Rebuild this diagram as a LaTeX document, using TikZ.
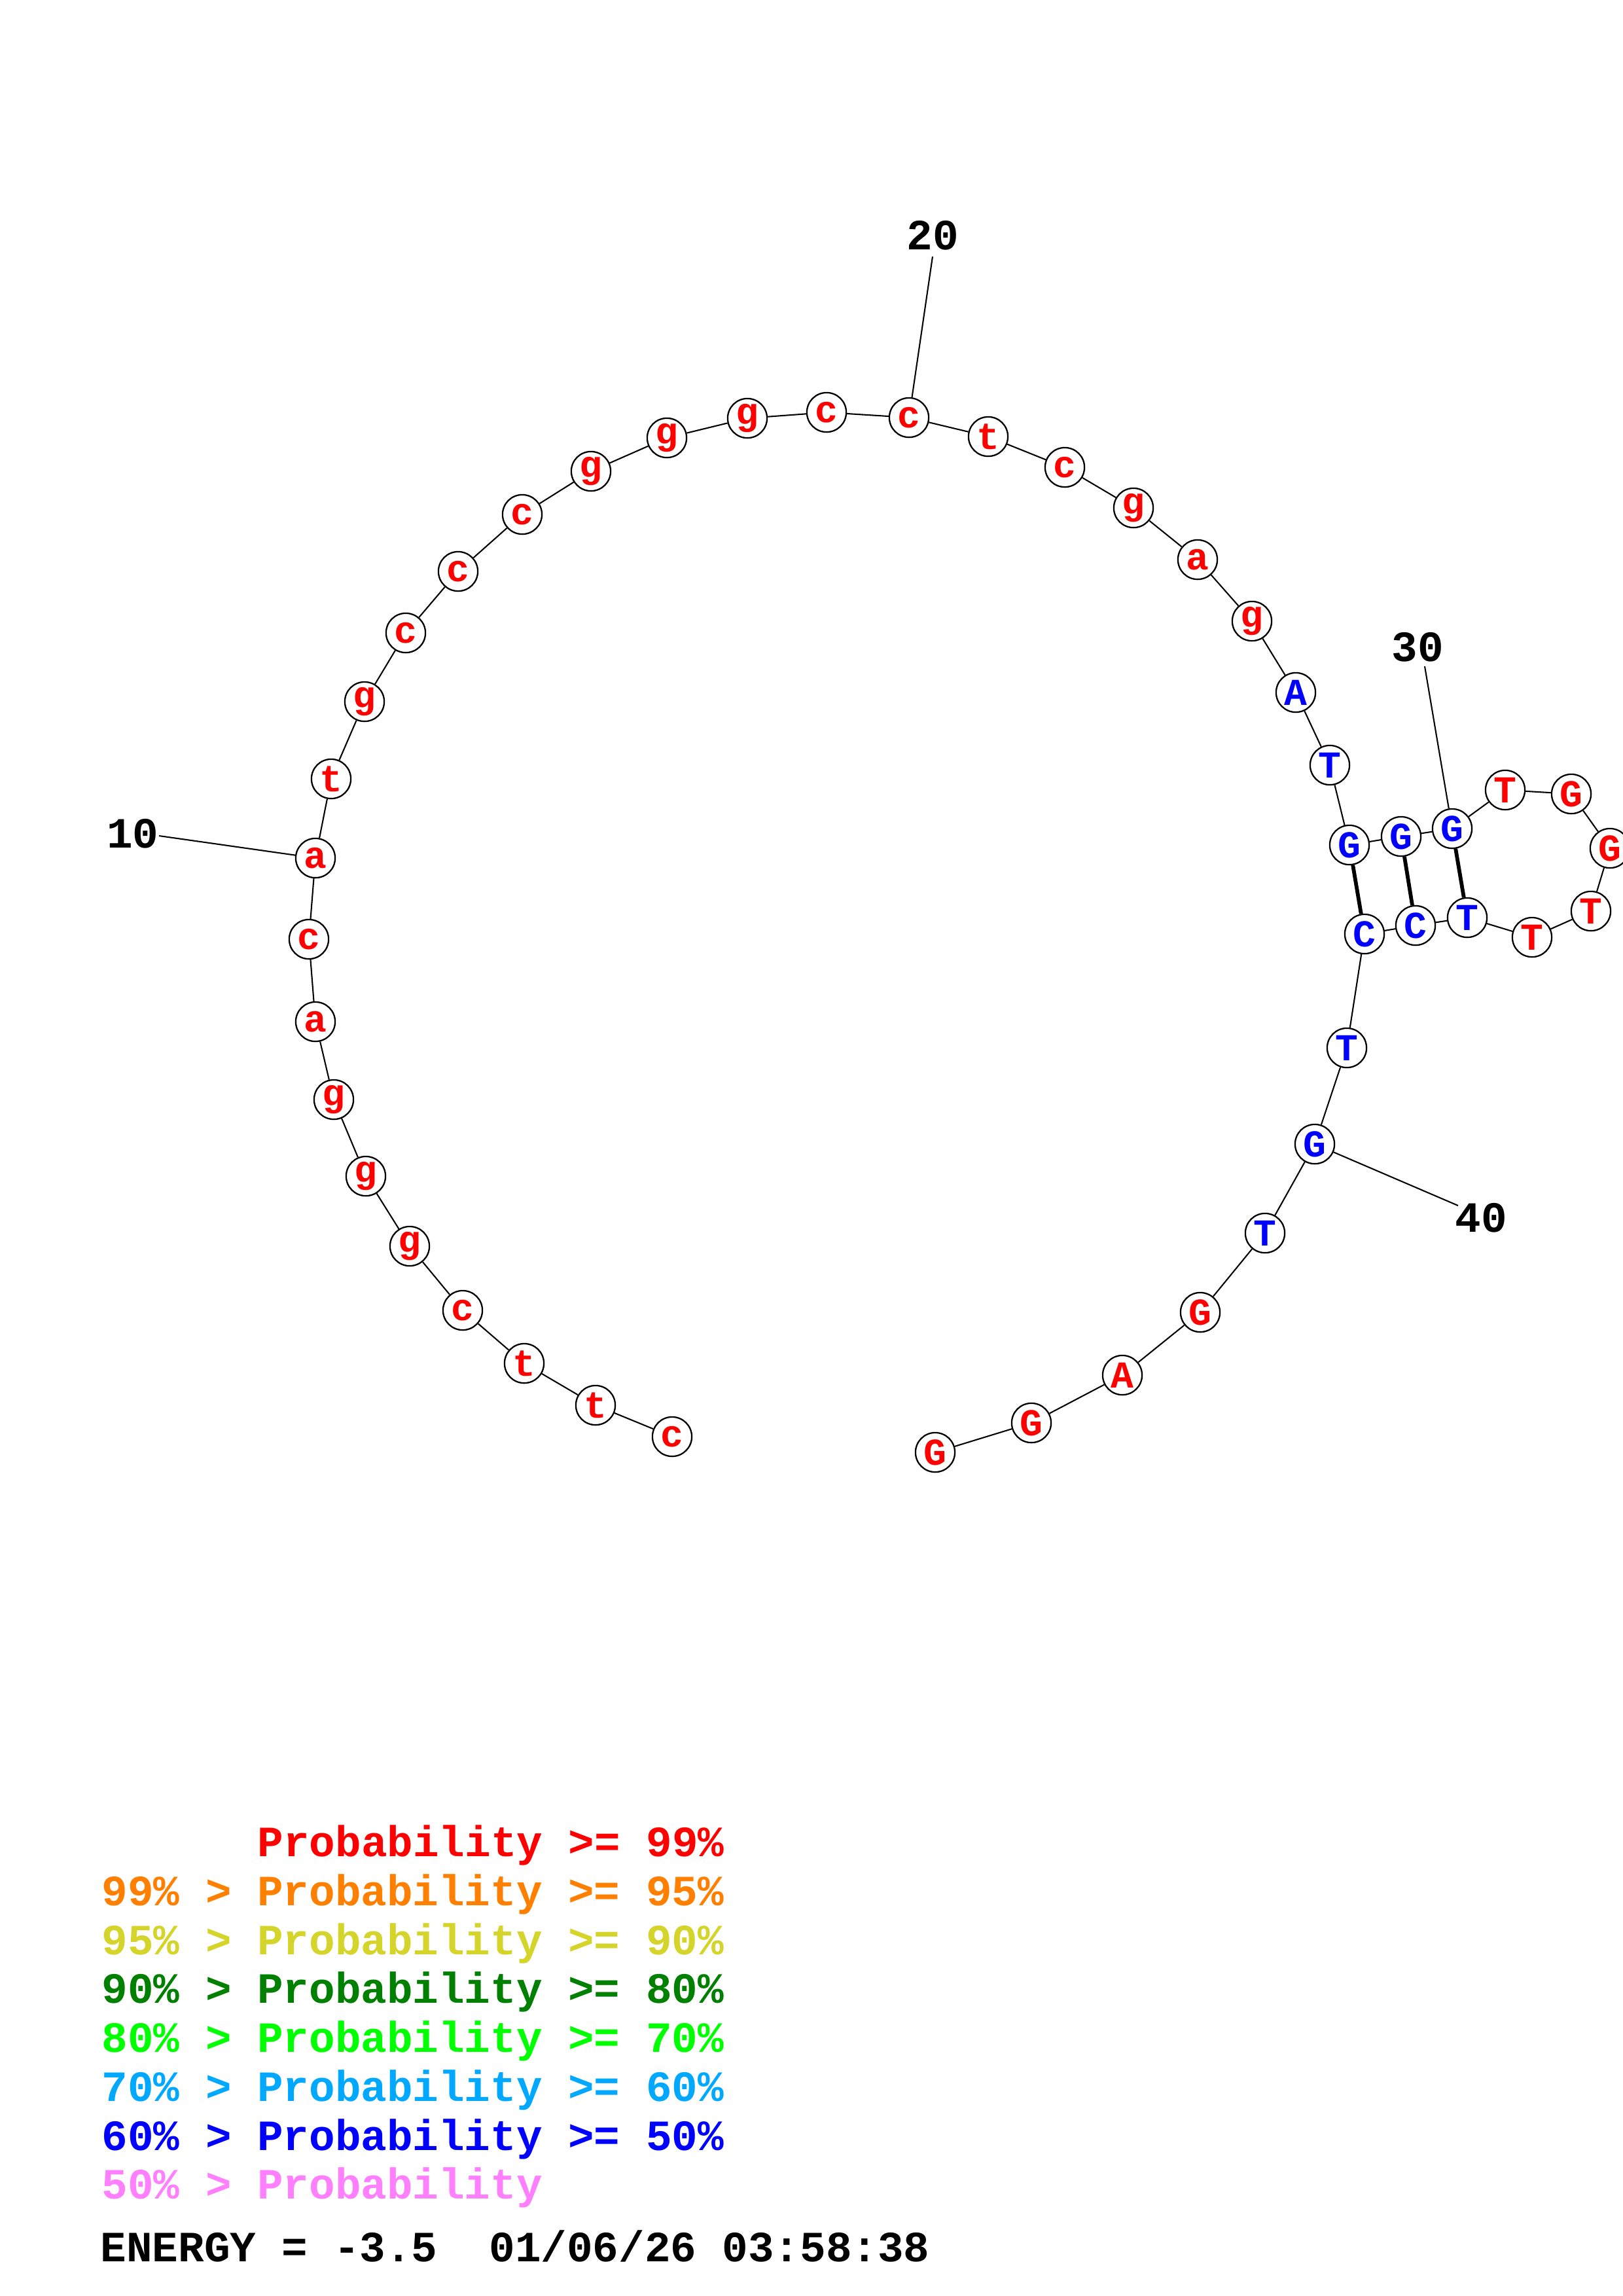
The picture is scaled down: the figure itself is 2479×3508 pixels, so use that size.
\documentclass[tikz,border=0pt]{standalone}
\usepackage{fontspec}
\setmonofont{Liberation Mono}
\usepackage{tikz}

\definecolor{probA}{RGB}{255,0,0}
\definecolor{probB}{RGB}{255,128,0}
\definecolor{probC}{RGB}{212,212,42}
\definecolor{probD}{RGB}{0,128,0}
\definecolor{probE}{RGB}{0,255,0}
\definecolor{probF}{RGB}{0,168,255}
\definecolor{probG}{RGB}{0,0,255}
\definecolor{probH}{RGB}{255,128,255}

\newcommand{\plotfont}{\ttfamily\bfseries\fontsize{15.9}{19}\selectfont}
\newcommand{\nucfont}{\ttfamily\bfseries\fontsize{14}{17}\selectfont}

\tikzset{
  nuc/.style={circle, draw, line width=0.55pt, fill=white, minimum size=5.1mm, inner sep=0pt, font=\nucfont},
  nucR/.style={nuc, text=probA},
  nucB/.style={nuc, text=probG},
  backbone/.style={line width=0.5pt},
  bpair/.style={line width=1.4pt},
  numlab/.style={font=\plotfont},
  legend/.style={anchor=base west, inner sep=0pt, font=\plotfont}
}

\begin{document}
\begin{tikzpicture}[x=0.08471mm, y=-0.08471mm]
                \useasboundingbox (0,0) rectangle (2479,3508);

                % Backbone 5' side
                \node[nucR] (n1) at (1027,2195) {c};
                \node[nucR] (n2) at (910,2147) {t};
                \node[nucR] (n3) at (801,2083) {t};
                \node[nucR] (n4) at (707,2002) {c};
                \node[nucR] (n5) at (626,1904) {g};
                \node[nucR] (n6) at (559,1797) {g};
                \node[nucR] (n7) at (510,1680) {g};
                \node[nucR] (n8) at (482,1561) {a};
                \node[nucR] (n9) at (472,1435) {c};
                \node[nucR] (n10) at (482,1311) {a};
                \node[nucR] (n11) at (506,1190) {t};
                \node[nucR] (n12) at (557,1072) {g};
                \node[nucR] (n13) at (620,967) {c};
                \node[nucR] (n14) at (700,873) {c};
                \node[nucR] (n15) at (798,786) {c};
                \node[nucR] (n16) at (903,720) {g};
                \node[nucR] (n17) at (1019,669) {g};
                \node[nucR] (n18) at (1142,639) {g};
                \node[nucR] (n19) at (1263,630) {c};
                \node[nucR] (n20) at (1389,638) {c};
                \node[nucR] (n21) at (1510,667) {t};
                \node[nucR] (n22) at (1627,714) {c};
                \node[nucR] (n23) at (1732,776) {g};
                \node[nucR] (n24) at (1830,855) {a};
                \node[nucR] (n25) at (1913,949) {g};
                \node[nucB] (n26) at (1980,1058) {A};
                \node[nucB] (n27) at (2032,1169) {T};

                % Hairpin
                \node[nucB] (n28) at (2062,1291) {G};
                \node[nucB] (n29) at (2141,1278) {G};
                \node[nucB] (n30) at (2219,1266) {G};
                \node[nucR] (n31) at (2300,1207) {T};
                \node[nucR] (n32) at (2401,1213) {G};
                \node[nucR] (n33) at (2460,1296) {G};
                \node[nucR] (n34) at (2431,1392) {T};
                \node[nucR] (n35) at (2341,1432) {T};
                \node[nucB] (n36) at (2242,1402) {T};
                \node[nucB] (n37) at (2163,1414) {C};
                \node[nucB] (n38) at (2085,1427) {C};

                % Backbone 3' side
                \node[nucB] (n39) at (2058,1601) {T};
                \node[nucB] (n40) at (2009,1748) {G};
                \node[nucB] (n41) at (1933,1884) {T};
                \node[nucR] (n42) at (1834,2005) {G};
                \node[nucR] (n43) at (1715,2101) {A};
                \node[nucR] (n44) at (1576,2174) {G};
                \node[nucR] (n45) at (1429,2219) {G};

                % Backbone links
                \draw[backbone] (n1) -- (n2) -- (n3) -- (n4) -- (n5) -- (n6) -- (n7) -- (n8) -- (n9) -- (n10)
                  -- (n11) -- (n12) -- (n13) -- (n14) -- (n15) -- (n16) -- (n17) -- (n18) -- (n19) -- (n20)
                  -- (n21) -- (n22) -- (n23) -- (n24) -- (n25) -- (n26) -- (n27) -- (n28) -- (n29) -- (n30)
                  -- (n31) -- (n32) -- (n33) -- (n34) -- (n35) -- (n36) -- (n37) -- (n38) -- (n39) -- (n40)
                  -- (n41) -- (n42) -- (n43) -- (n44) -- (n45);

                % Base pairs
                \draw[bpair] (n28) -- (n38);
                \draw[bpair] (n29) -- (n37);
                \draw[bpair] (n30) -- (n36);

                % Numbering
                \node[numlab] (lab10) at (203,1274) {10};
                \coordinate (e10) at (243,1277);
                \draw[backbone] (n10) -- (e10);
                \node[numlab] (lab20) at (1425,360) {20};
                \coordinate (e20) at (1425,392);
                \draw[backbone] (n20) -- (e20);
                \node[numlab] (lab30) at (2166,989) {30};
                \coordinate (e30) at (2177,1018);
                \draw[backbone] (n30) -- (e30);
                \node[numlab] (lab40) at (2263,1861) {40};
                \coordinate (e40) at (2228,1842);
                \draw[backbone] (n40) -- (e40);

                % Legend
                \node[legend, text=probA] (leg1) at (393,2836) {Probability >= 99\%};
                \node[legend, text=probB] (leg2) at (155,2911) {99\% > Probability >= 95\%};
                \node[legend, text=probC] (leg3) at (155,2986) {95\% > Probability >= 90\%};
                \node[legend, text=probD] (leg4) at (155,3060) {90\% > Probability >= 80\%};
                \node[legend, text=probE] (leg5) at (155,3135) {80\% > Probability >= 70\%};
                \node[legend, text=probF] (leg6) at (155,3210) {70\% > Probability >= 60\%};
                \node[legend, text=probG] (leg7) at (155,3285) {60\% > Probability >= 50\%};
                \node[legend, text=probH] (leg8) at (155,3359) {50\% > Probability};
                \node[legend] (energy) at (153,3455) {ENERGY = -3.5\ \ 01/06/26 03:58:38};
            \end{tikzpicture}
\end{document}
